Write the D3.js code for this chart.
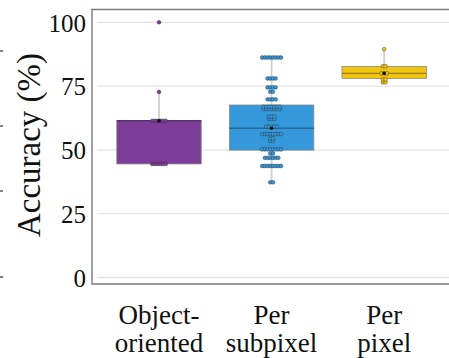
<!DOCTYPE html>
<html>
<head>
<meta charset="utf-8">
<script src="https://cdn.jsdelivr.net/npm/d3@7"></script>
<style>
  html, body { margin: 0; padding: 0; background: #fff; }
  svg { display: block; }
</style>
</head>
<body>
<svg id="chart" width="449" height="358"></svg>
<script>
const serif = "'Liberation Serif', 'Times New Roman', Times, serif";

// Methods compared
const categories = ["Object-oriented", "Per subpixel", "Per pixel"];
const labelLines = [["Object-", "oriented"], ["Per", "subpixel"], ["Per", "pixel"]];
const colors = ["#7d3c98", "#3498db", "#f1c40f"];
const medianColors = ["#5a2a6e", "#236a99", "#9c7d05"];

// Box statistics per method: lower whisker, Q1, median, Q3, upper whisker
const whiskerLow = [44.5, 37.3, 76.5];
const q1 = [44.5, 49.9, 78.0];
const median = [61.4, 58.5, 80.0];
const q3 = [61.4, 67.6, 82.7];
const whiskerHigh = [72.7, 86.2, 89.5];

// Individual accuracies (%) per method
const objectOriented = [44.5, 44.5, 44.5, 44.5, 44.5, 44.5,
  61.4, 61.4, 61.4, 61.4, 61.4, 61.4, 72.7, 100];
const perSubpixel = [37.3, 37.3,
  43.7, 43.7, 43.7, 43.7, 43.7, 43.7, 43.7, 43.7,
  46.9, 46.9, 46.9, 46.9, 46.9, 46.9,
  48.6, 48.6,
  50.2, 50.2, 50.2, 50.2, 50.2, 50.2, 50.2, 50.2,
  53.5, 53.5, 54.5, 54.5,
  56.2, 56.2, 56.2, 56.2, 56.2, 56.2, 56.2, 56.2,
  59.1, 59.1, 59.1, 59.1, 59.1,
  62.1, 62.1, 62.1, 63.0, 63.0, 63.0,
  66.0, 66.0, 66.0, 66.0, 66.0, 66.0, 66.0,
  66.9, 66.9, 66.9, 66.9, 66.9, 66.9, 66.9,
  69.8, 69.8, 69.8, 69.8,
  72.8, 72.8,
  74.5, 74.5, 74.5, 74.5,
  78.0, 78.0, 78.0, 78.0,
  86.2, 86.2, 86.2, 86.2, 86.2, 86.2, 86.2, 86.2];
const perPixel = [76.5, 76.5, 77.6, 77.6, 80.0, 80.0, 80.0, 82.8, 82.8, 89.5];
const points = [objectOriented, perSubpixel, perPixel];

const yTicks = [0, 25, 50, 75, 100];

const svg = d3.select("#chart");

const frame = { left: 92, top: 9.5, bottom: 284, right: 449 };

const y = d3.scaleLinear().domain([0, 100]).range([277.5, 22.3]);
const x = d3.scaleBand().domain(categories).range([102.7, 440.5]).paddingInner(0).paddingOuter(0);
const boxW = x.bandwidth() * 0.75;

// Gridlines
svg.append("g")
  .selectAll("line")
  .data(yTicks)
  .join("line")
  .attr("x1", 97).attr("x2", frame.right)
  .attr("y1", d => y(d)).attr("y2", d => y(d))
  .attr("stroke", "#e4e4e4").attr("stroke-width", 1.3);

// Y axis tick labels
const yAxis = d3.axisLeft(y).tickValues(yTicks).tickSize(0).tickPadding(0);
const gy = svg.append("g").attr("transform", "translate(86,0)").call(yAxis)
  .attr("font-family", serif).attr("font-size", 25);
gy.select(".domain").remove();
gy.selectAll("text")
  .attr("font-family", serif)
  .style("font-family", serif)
  .style("font-size", "25px")
  .attr("fill", "#111")
  .attr("dy", "0.35em");

// Frame
const fr = svg.append("g").attr("stroke", "#7a7a7a").attr("stroke-width", 1.4).attr("fill", "none");
fr.append("path").attr("d", `M${frame.right},${frame.top}H${frame.left}V${frame.bottom}H${frame.right}`);

// Whiskers and boxes
const gBox = svg.append("g");
categories.forEach((c, i) => {
  const cx = x(c) + x.bandwidth() / 2;
  gBox.append("line")
    .attr("x1", cx).attr("x2", cx)
    .attr("y1", y(whiskerLow[i])).attr("y2", y(whiskerHigh[i]))
    .attr("stroke", "#cfcfcf").attr("stroke-width", 1.8);
  gBox.append("rect")
    .attr("x", cx - boxW / 2).attr("width", boxW)
    .attr("y", y(q3[i])).attr("height", Math.max(1, y(q1[i]) - y(q3[i])))
    .attr("fill", colors[i])
    .attr("stroke", "#8a8a8a").attr("stroke-width", 0.8);
  gBox.append("line")
    .attr("x1", cx - boxW / 2).attr("x2", cx + boxW / 2)
    .attr("y1", y(median[i])).attr("y2", y(median[i]))
    .attr("stroke", medianColors[i]).attr("stroke-width", 1.4);
});

// Individual points, spread sideways where values coincide
const spacing = 2.7;
const gPts = svg.append("g");
categories.forEach((c, i) => {
  const cx = x(c) + x.bandwidth() / 2;
  const groups = d3.group(points[i], d => d);
  groups.forEach((vals) => {
    const n = vals.length;
    vals.forEach((d, k) => {
      gPts.append("circle")
        .attr("cx", cx + (k - (n - 1) / 2) * spacing)
        .attr("cy", y(d))
        .attr("r", 1.9)
        .attr("fill", colors[i])
        .attr("stroke", "#2b2b2b").attr("stroke-opacity", 0.7)
        .attr("stroke-width", 0.6);
    });
  });
  // Median marker
  gPts.append("circle")
    .attr("cx", cx).attr("cy", y(median[i]))
    .attr("r", 1.8).attr("fill", "#111");
});

// Category labels, two lines each
const gx = svg.append("g");
categories.forEach((c, i) => {
  const cx = x(c) + x.bandwidth() / 2;
  labelLines[i].forEach((line, k) => {
    gx.append("text")
      .attr("x", cx).attr("y", 324 + k * 28)
      .attr("text-anchor", "middle")
      .attr("font-family", serif)
      .style("font-family", serif)
      .style("font-size", "27px")
      .attr("fill", "#111")
      .text(line);
  });
});

// Y axis title
svg.append("text")
  .attr("transform", "translate(40,145) rotate(-90)")
  .attr("text-anchor", "middle")
  .attr("font-family", serif)
  .style("font-family", serif)
  .style("font-size", "33px")
  .attr("fill", "#111")
  .text("Accuracy (%)");

// Tick marks of the neighbouring panel at the left edge
svg.append("g")
  .selectAll("line")
  .data([51, 126, 191, 277])
  .join("line")
  .attr("x1", 0).attr("x2", 3)
  .attr("y1", d => d).attr("y2", d => d)
  .attr("stroke", "#333").attr("stroke-width", 1.2);
</script>
</body>
</html>
